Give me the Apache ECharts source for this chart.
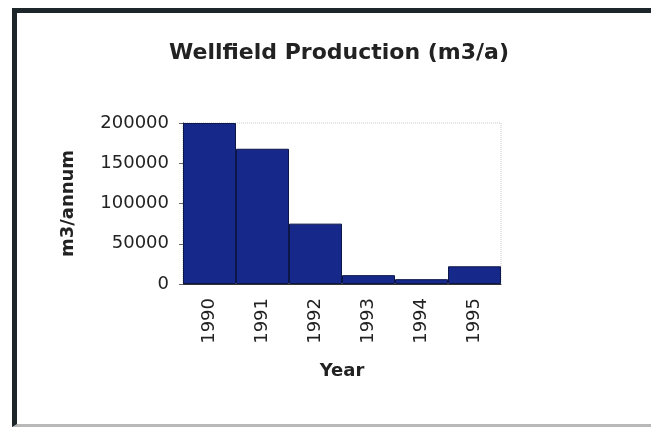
<!DOCTYPE html>
<html>
<head>
<meta charset="utf-8">
<script src="https://cdn.jsdelivr.net/npm/echarts@6/dist/echarts.min.js"></script>
<style>
  html, body { margin: 0; padding: 0; background: #fff; }
  #frame {
    position: absolute; left: 12px; top: 8px; width: 634px; height: 411px;
    border-left: 5px solid #1d262b; border-top: 5px solid #1d262b;
    border-right: 2px solid #c4c4c4; border-bottom: 3px solid #b8b8b8;
  }
  #chart { position: absolute; left: 0; top: 0; width: 651px; height: 427px; }
</style>
</head>
<body>
<div id="frame"></div>
<div id="chart"></div>
<script>
const years = ['1990', '1991', '1992', '1993', '1994', '1995']
const production = [200000, 168000, 75000, 11000, 6000, 22000]

const chart = echarts.init(document.getElementById('chart'))

const option = {
  animation: false,
  title: {
    text: 'Wellfield Production (m3/a)',
    left: 334,
    textAlign: 'center',
    top: 37,
    textStyle: {
      fontFamily: 'DejaVu Sans',
      fontWeight: 'bold',
      fontSize: 22,
      color: '#222'
    }
  },
  grid: {
    left: 183,
    right: 150,
    top: 123,
    bottom: 143,
    show: true,
    borderColor: '#c8c8c8',
    borderWidth: 1,
    borderType: 'dotted'
  },
  xAxis: {
    type: 'category',
    data: years,
    name: 'Year',
    nameLocation: 'middle',
    nameGap: 78,
    nameTextStyle: {
      fontFamily: 'DejaVu Sans',
      fontWeight: 'bold',
      fontSize: 18,
      color: '#222'
    },
    axisLine: { lineStyle: { color: '#333', width: 1 } },
    axisTick: { length: 4, lineStyle: { color: '#666' } },
    axisLabel: {
      rotate: 90,
      margin: 14,
      fontFamily: 'DejaVu Sans',
      fontSize: 18,
      color: '#222'
    }
  },
  yAxis: {
    type: 'value',
    min: 0,
    max: 200000,
    interval: 50000,
    name: 'm3/annum',
    nameLocation: 'middle',
    nameGap: 106,
    nameTextStyle: {
      fontFamily: 'DejaVu Sans',
      fontWeight: 'bold',
      fontSize: 18,
      color: '#222'
    },
    axisLine: { show: true, lineStyle: { color: '#333', width: 1 } },
    axisTick: { show: true, length: 4, lineStyle: { color: '#666' } },
    splitLine: { show: false },
    axisLabel: {
      margin: 14,
      formatter: v => String(v),
      fontFamily: 'DejaVu Sans',
      fontSize: 18,
      color: '#222'
    }
  },
  series: [
    {
      name: 'Production',
      type: 'bar',
      data: production,
      barCategoryGap: 0,
      itemStyle: {
        color: '#16298a',
        borderColor: '#0c1648',
        borderWidth: 1
      }
    }
  ]
}

chart.setOption(option)
</script>
</body>
</html>
